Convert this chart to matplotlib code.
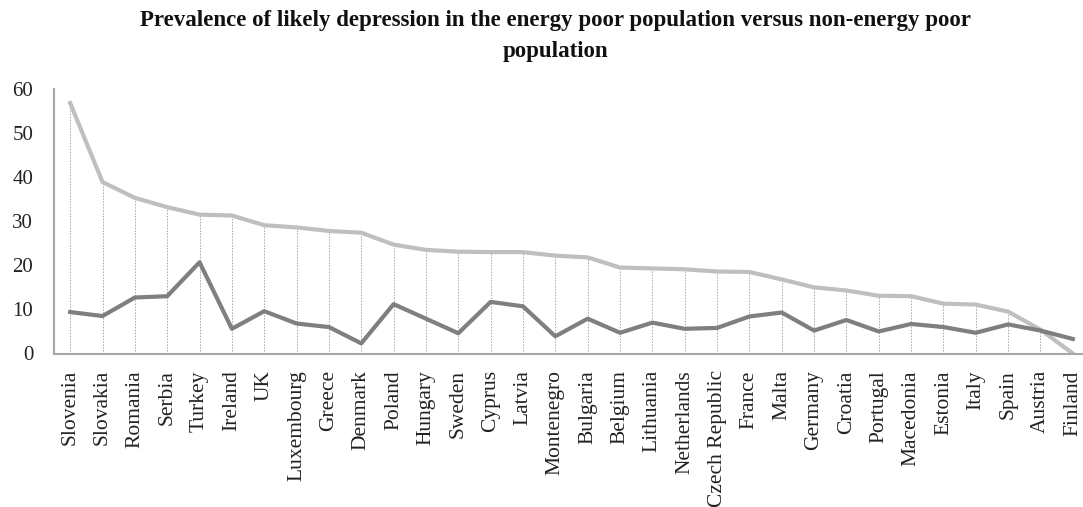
import matplotlib
matplotlib.use("Agg")
import matplotlib.pyplot as plt
import numpy as np

countries = ["Slovenia", "Slovakia", "Romania", "Serbia", "Turkey", "Ireland", "UK",
             "Luxembourg", "Greece", "Denmark", "Poland", "Hungary", "Sweden", "Cyprus",
             "Latvia", "Montenegro", "Bulgaria", "Belgium", "Lithuania", "Netherlands",
             "Czech Republic", "France", "Malta", "Germany", "Croatia", "Portugal",
             "Macedonia", "Estonia", "Italy", "Spain", "Austria", "Finland"]
energy_poor = [56.8, 38.9, 35.3, 33.2, 31.5, 31.3, 29.1, 28.6, 27.8, 27.4, 24.7, 23.5,
               23.1, 23.0, 23.0, 22.2, 21.8, 19.5, 19.3, 19.1, 18.6, 18.5, 16.8, 15.0,
               14.3, 13.1, 13.0, 11.3, 11.1, 9.5, 5.4, 0.0]
non_energy_poor = [9.4, 8.5, 12.7, 13.0, 20.7, 5.6, 9.6, 6.8, 6.0, 2.3, 11.2, 7.9,
                   4.6, 11.7, 10.7, 3.9, 7.9, 4.7, 7.0, 5.6, 5.8, 8.4, 9.3, 5.2,
                   7.6, 5.0, 6.7, 6.0, 4.7, 6.6, 5.2, 3.3]
yticks = [0, 10, 20, 30, 40, 50, 60]
title = "Prevalence of likely depression in the energy poor population versus non-energy poor\npopulation"

plt.rcParams['font.family'] = ['Liberation Serif', 'DejaVu Serif']

W, H = 1083, 507
fig = plt.figure(figsize=(W / 100, H / 100), dpi=100)
left, right, top, bottom = 54, 1089, 89, 353.5
ax = fig.add_axes([left / W, 1 - bottom / H, (right - left) / W, (bottom - top) / H])

x = np.arange(len(countries))
ax.vlines(x, 0, energy_poor, colors="#a6a6a6", linestyles=(0, (1.5, 1.5)), linewidth=0.7, zorder=1)
ax.plot(x, energy_poor, color="#bfbfbf", linewidth=3, zorder=2, solid_joinstyle="round")
ax.plot(x, non_energy_poor, color="#7f7f7f", linewidth=3, zorder=3, solid_joinstyle="round")

ax.set_xlim(-0.5, len(countries) - 0.5)
ax.set_ylim(0, 60)
ax.set_yticks(yticks)
ax.set_yticklabels([str(v) for v in yticks], fontsize=15, color="#222222")
ax.set_xticks(x)
ax.set_xticklabels(countries, rotation=90, fontsize=15.5, color="#222222")
ax.tick_params(axis="both", length=0)
ax.tick_params(axis="y", pad=15)
ax.tick_params(axis="x", pad=12)
for s in ["top", "right"]:
    ax.spines[s].set_visible(False)
for s in ["left", "bottom"]:
    ax.spines[s].set_color("#a6a6a6")
    ax.spines[s].set_linewidth(1.5)

fig.text(555 / W, 1 - 10 / H, title, ha="center", va="top", fontsize=16.5,
         fontweight="bold", linespacing=1.65, color="#111111")

fig.savefig("out.png", dpi=100)
